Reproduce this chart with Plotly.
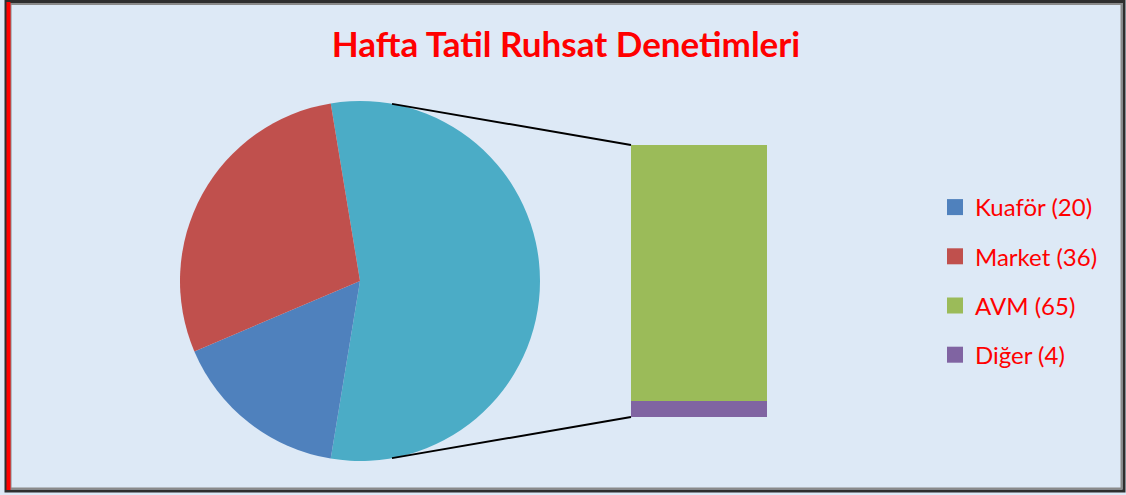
import math
import plotly.graph_objects as go

# ---- data ----
categories = ["Kuaför", "Market", "AVM", "Diğer"]
values = [20, 36, 65, 4]
colors = ["#4F81BD", "#C0504D", "#9BBB59", "#8064A2"]
other_color = "#4BACC6"
title_text = "Hafta Tatil Ruhsat Denetimleri"

W, H = 1126, 495
def px(x):
    return x / W
def py(y):
    return (H - y) / H

kuafor, market, avm, diger = values
other_total = avm + diger
total = sum(values)

# pie geometry (pixels)
cx, cy, r = 360, 281, 180
# bar geometry (pixels)
bx0, bx1, by0, by1 = 631, 767, 145, 417

fig = go.Figure()

# pie: "other" slice first, centered at 3 o'clock
other_angle = other_total / total * 360
fig.add_trace(go.Pie(
    labels=["Diğer grubu", categories[0], categories[1]],
    values=[other_total, kuafor, market],
    marker=dict(colors=[other_color, colors[0], colors[1]], line=dict(width=0)),
    sort=False, direction="clockwise", rotation=90 - other_angle / 2,
    textinfo="none", hoverinfo="label+value", showlegend=False,
    domain=dict(x=[px(cx - r), px(cx + r)], y=[py(cy + r), py(cy - r)]),
))

# stacked bar: Diğer at the bottom, AVM on top
for i in (3, 2):
    fig.add_trace(go.Bar(
        x=[0], y=[values[i]], name=categories[i], marker=dict(color=colors[i], line=dict(width=0)),
        width=1, showlegend=False, xaxis="x", yaxis="y",
        hovertemplate=f"{categories[i]}: {values[i]}<extra></extra>",
    ))

# legend entries
for i, (cat, val, col) in enumerate(zip(categories, values, colors)):
    fig.add_trace(go.Scatter(
        x=[None], y=[None], mode="markers", name=f"{cat} ({val})",
        marker=dict(symbol="square", size=16, color=col), legendgroup=f"g{i}",
        legendrank=i + 1, xaxis="x", yaxis="y",
    ))

# connector lines
ang = math.asin((392 - cx) / r)
tx = cx + r * math.sin(ang)
ty_top = cy - r * math.cos(ang)
ty_bot = cy + r * math.cos(ang)
shapes = [
    dict(type="line", xref="paper", yref="paper", x0=px(tx), y0=py(ty_top), x1=px(bx0), y1=py(by0),
         line=dict(color="black", width=2)),
    dict(type="line", xref="paper", yref="paper", x0=px(tx), y0=py(ty_bot), x1=px(bx0), y1=py(by1),
         line=dict(color="black", width=2)),
    # frame
    dict(type="rect", xref="paper", yref="paper", x0=px(6), y0=py(491), x1=px(1124), y1=py(1.5),
         line=dict(color="#2e2e2e", width=3), layer="above"),
    dict(type="rect", xref="paper", yref="paper", x0=px(10.5), y0=py(488.5), x1=px(1121.5), y1=py(4),
         line=dict(color="#8a8a8a", width=2), layer="above"),
    dict(type="line", xref="paper", yref="paper", x0=px(8.5), y0=py(490), x1=px(8.5), y1=py(2),
         line=dict(color="#ff0000", width=4), layer="above"),
]

fig.update_layout(
    width=W, height=H,
    margin=dict(l=0, r=0, t=0, b=0),
    paper_bgcolor="#dde9f6",
    plot_bgcolor="rgba(0,0,0,0)",
    barmode="stack",
    bargap=0,
    title=dict(text=f"<b>{title_text}</b>", x=px(566), xanchor="center", y=py(45), yanchor="middle",
               font=dict(family="Lato, Open Sans, sans-serif", size=35, color="#ff0000")),
    xaxis=dict(domain=[px(bx0), px(bx1)], range=[-0.5, 0.5], visible=False, fixedrange=True),
    yaxis=dict(domain=[py(by1), py(by0)], range=[0, other_total], visible=False, fixedrange=True),
    legend=dict(x=px(935), y=py(185), xanchor="left", yanchor="top",
                font=dict(family="Lato, Open Sans, sans-serif", size=24, color="#ff0000"),
                bgcolor="rgba(0,0,0,0)", tracegroupgap=15, itemwidth=30),
    shapes=shapes,
    showlegend=True,
)

fig.write_html("out.html", config={"displayModeBar": False},
               post_script="document.body.style.margin='0';document.body.style.overflow='hidden';")
